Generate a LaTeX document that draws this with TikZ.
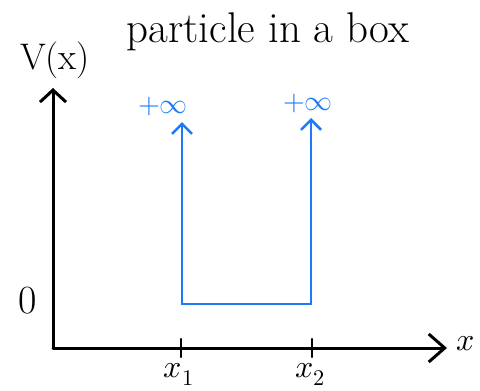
\documentclass[tikz,border=0pt]{standalone}
\usepackage{unicode-math}
\usetikzlibrary{arrows.meta}
\definecolor{Wall}{HTML}{1F7BF5}

\tikzset{
  axis/.style={line width=3pt, line cap=round, line join=round},
  wall/.style={Wall, line width=2.6pt, line join=miter},
  lab/.style={font=\fontsize{32}{38}\selectfont},
}

\begin{document}
\begin{tikzpicture}[x=1pt, y=-1pt]

    \useasboundingbox (0,0) rectangle (480,391);

    \coordinate (O) at (53,348);
    \coordinate (ytop) at (53,88);
    \coordinate (xend) at (447,348);

    % axes
    \draw[axis, -{Straight Barb[length=12pt, width=26pt]}] (O) -- (ytop);
    \draw[axis, -{Straight Barb[length=16pt, width=28pt]}] (O) -- (xend);

    \node[font=\fontsize{43}{50}\selectfont] (title) at (268,32) {particle in a box};
    \node[font=\fontsize{37}{44}\selectfont] (Vx) at (55,60) {V(x)};
    \node[lab] (xaxis) at (466,344) {$x$};
    \node[font=\fontsize{40}{46}\selectfont] (zero) at (28,301) {0};

    % ticks
    \foreach \i/\x in {1/181, 2/312} {
        \draw[axis, line width=2.4pt] (\x,339) -- (\x,357);
        \node[lab] (xlab-\i) at (\x-2,374) {$x_{\i}$};
    }

    % walls
    \coordinate (w1-top) at (182,122);
    \coordinate (w1-bot) at (182,304);
    \coordinate (w2-bot) at (311,304);
    \coordinate (w2-top) at (311,118);

    \node[Wall, font=\fontsize{28}{32}\selectfont] (inf-1) at (163,106) {$+\infty$};
    \node[Wall, font=\fontsize{28}{32}\selectfont] (inf-2) at (308,103) {$+\infty$};

    \draw[wall, {Straight Barb[length=10pt, width=20pt]}-{Straight Barb[length=10pt, width=20pt]}]
        (w1-top) -- (w1-bot) -- (w2-bot) -- (w2-top);

\end{tikzpicture}
\end{document}
